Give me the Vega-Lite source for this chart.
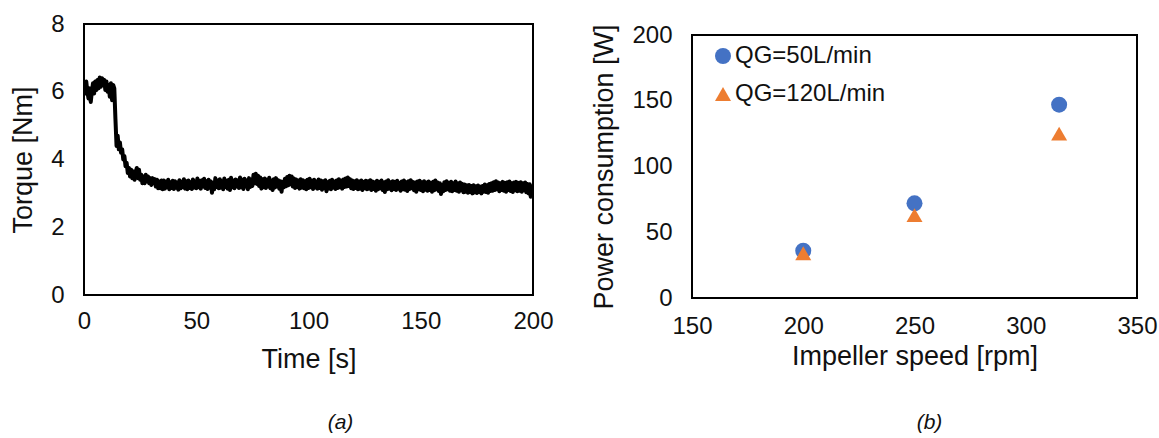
{
  "$schema": "https://vega.github.io/schema/vega-lite/v6.json",
  "padding": {"left": 8, "top": 11, "right": 5, "bottom": 5},
  "config": {
    "font": "Liberation Sans",
    "view": {"stroke": "black", "strokeWidth": 2},
    "axis": {"grid": false, "domain": false, "ticks": false, "labelFlush": false, "labelOverlap": false, "labelFontSize": 24, "titleFontSize": 27, "titleFontWeight": "normal", "labelColor": "#111111", "titleColor": "#111111", "labelFont": "Liberation Sans", "titleFont": "Liberation Sans"},
    "axisX": {"labelPadding": 14, "titlePadding": 13},
    "axisY": {"labelPadding": 20, "titlePadding": 13},
    "title": {"font": "Liberation Sans", "fontWeight": "normal", "color": "#111111"}
  },
  "spacing": 35,
  "hconcat": [
    {
      "width": 449,
      "height": 271,
      "title": {"text": "(a)", "orient": "bottom", "fontStyle": "italic", "fontSize": 21, "offset": 40, "dx": 32, "anchor": "middle"},
      "data": {"values": [
        {"t":0,"v":6.2},{"t":0.5,"v":5.95},{"t":1,"v":6.3},{"t":1.5,"v":6.0},{"t":2,"v":5.8},{"t":2.5,"v":6.1},{"t":3,"v":5.7},{"t":3.5,"v":6.0},{"t":4,"v":6.25},{"t":4.5,"v":5.95},
        {"t":5,"v":6.3},{"t":5.5,"v":6.05},{"t":6,"v":6.35},{"t":6.5,"v":6.1},{"t":7,"v":6.42},{"t":7.5,"v":6.15},{"t":8,"v":6.4},{"t":8.5,"v":6.2},{"t":9,"v":6.35},{"t":9.5,"v":6.05},
        {"t":10,"v":6.3},{"t":10.5,"v":6.0},{"t":11,"v":6.2},{"t":11.5,"v":5.85},{"t":12,"v":6.25},{"t":12.5,"v":5.75},{"t":13,"v":6.2},{"t":13.5,"v":6.1},{"t":14,"v":5.2},{"t":14.5,"v":4.4},
        {"t":15,"v":4.7},{"t":15.5,"v":4.3},{"t":16,"v":4.5},{"t":16.5,"v":4.2},{"t":17,"v":4.3},{"t":17.5,"v":4.0},{"t":18,"v":4.1},{"t":18.5,"v":3.8},{"t":19,"v":3.9},{"t":19.5,"v":3.6},
        {"t":20,"v":3.75},{"t":20.5,"v":3.5},{"t":21,"v":3.7},{"t":21.5,"v":3.45},{"t":22,"v":3.65},{"t":22.5,"v":3.4},{"t":23,"v":3.6},{"t":23.5,"v":3.75},{"t":24,"v":3.45},{"t":24.5,"v":3.7},
        {"t":25,"v":3.4},{"t":25.5,"v":3.55},{"t":26,"v":3.3},{"t":26.5,"v":3.5},{"t":27,"v":3.3},{"t":27.5,"v":3.55},{"t":28,"v":3.35},{"t":28.5,"v":3.5},{"t":29,"v":3.3},{"t":29.5,"v":3.45},
        {"t":30,"v":3.25},{"t":30.5,"v":3.45},{"t":31,"v":3.3},{"t":31.5,"v":3.42},{"t":32,"v":3.2},{"t":32.5,"v":3.4},{"t":33,"v":3.15},{"t":33.5,"v":3.35},{"t":34,"v":3.15},{"t":34.5,"v":3.38},
        {"t":35,"v":3.12},{"t":35.5,"v":3.38},{"t":36,"v":3.14},{"t":36.5,"v":3.35},{"t":37,"v":3.18},{"t":37.5,"v":3.4},{"t":38,"v":3.12},{"t":38.5,"v":3.33},{"t":39,"v":3.16},{"t":39.5,"v":3.37},
        {"t":40,"v":3.13},{"t":40.5,"v":3.36},{"t":41,"v":3.17},{"t":41.5,"v":3.32},{"t":42,"v":3.11},{"t":42.5,"v":3.39},{"t":43,"v":3.15},{"t":43.5,"v":3.34},{"t":44,"v":3.18},{"t":44.5,"v":3.42},
        {"t":45,"v":3.14},{"t":45.5,"v":3.36},{"t":46,"v":3.12},{"t":46.5,"v":3.38},{"t":47,"v":3.16},{"t":47.5,"v":3.33},{"t":48,"v":3.13},{"t":48.5,"v":3.41},{"t":49,"v":3.17},{"t":49.5,"v":3.35},
        {"t":50,"v":3.15},{"t":50.5,"v":3.44},{"t":51,"v":3.18},{"t":51.5,"v":3.37},{"t":52,"v":3.14},{"t":52.5,"v":3.39},{"t":53,"v":3.2},{"t":53.5,"v":3.43},{"t":54,"v":3.16},{"t":54.5,"v":3.36},
        {"t":55,"v":3.13},{"t":55.5,"v":3.4},{"t":56,"v":3.17},{"t":56.5,"v":3.35},{"t":57,"v":3.02},{"t":57.5,"v":3.3},{"t":58,"v":3.12},{"t":58.5,"v":3.45},{"t":59,"v":3.19},{"t":59.5,"v":3.38},
        {"t":60,"v":3.15},{"t":60.5,"v":3.42},{"t":61,"v":3.17},{"t":61.5,"v":3.36},{"t":62,"v":3.12},{"t":62.5,"v":3.44},{"t":63,"v":3.19},{"t":63.5,"v":3.37},{"t":64,"v":3.14},{"t":64.5,"v":3.4},
        {"t":65,"v":3.1},{"t":65.5,"v":3.46},{"t":66,"v":3.18},{"t":66.5,"v":3.38},{"t":67,"v":3.15},{"t":67.5,"v":3.41},{"t":68,"v":3.2},{"t":68.5,"v":3.39},{"t":69,"v":3.16},{"t":69.5,"v":3.47},
        {"t":70,"v":3.18},{"t":70.5,"v":3.4},{"t":71,"v":3.13},{"t":71.5,"v":3.43},{"t":72,"v":3.2},{"t":72.5,"v":3.38},{"t":73,"v":3.12},{"t":73.5,"v":3.45},{"t":74,"v":3.19},{"t":74.5,"v":3.41},
        {"t":75,"v":3.22},{"t":75.5,"v":3.55},{"t":76,"v":3.3},{"t":76.5,"v":3.58},{"t":77,"v":3.28},{"t":77.5,"v":3.52},{"t":78,"v":3.22},{"t":78.5,"v":3.47},{"t":79,"v":3.14},{"t":79.5,"v":3.42},
        {"t":80,"v":3.18},{"t":80.5,"v":3.44},{"t":81,"v":3.16},{"t":81.5,"v":3.4},{"t":82,"v":3.2},{"t":82.5,"v":3.46},{"t":83,"v":3.15},{"t":83.5,"v":3.38},{"t":84,"v":3.1},{"t":84.5,"v":3.42},
        {"t":85,"v":3.17},{"t":85.5,"v":3.45},{"t":86,"v":3.2},{"t":86.5,"v":3.39},{"t":87,"v":3.14},{"t":87.5,"v":3.36},{"t":88,"v":3.05},{"t":88.5,"v":3.34},{"t":89,"v":3.18},{"t":89.5,"v":3.43},
        {"t":90,"v":3.21},{"t":90.5,"v":3.48},{"t":91,"v":3.24},{"t":91.5,"v":3.52},{"t":92,"v":3.27},{"t":92.5,"v":3.5},{"t":93,"v":3.2},{"t":93.5,"v":3.44},{"t":94,"v":3.16},{"t":94.5,"v":3.41},
        {"t":95,"v":3.19},{"t":95.5,"v":3.38},{"t":96,"v":3.14},{"t":96.5,"v":3.42},{"t":97,"v":3.17},{"t":97.5,"v":3.39},{"t":98,"v":3.15},{"t":98.5,"v":3.36},{"t":99,"v":3.12},{"t":99.5,"v":3.4},
        {"t":100,"v":3.16},{"t":100.5,"v":3.43},{"t":101,"v":3.18},{"t":101.5,"v":3.37},{"t":102,"v":3.13},{"t":102.5,"v":3.4},{"t":103,"v":3.17},{"t":103.5,"v":3.35},{"t":104,"v":3.14},{"t":104.5,"v":3.41},
        {"t":105,"v":3.16},{"t":105.5,"v":3.38},{"t":106,"v":3.11},{"t":106.5,"v":3.36},{"t":107,"v":3.15},{"t":107.5,"v":3.39},{"t":108,"v":3.06},{"t":108.5,"v":3.33},{"t":109,"v":3.14},{"t":109.5,"v":3.37},
        {"t":110,"v":3.12},{"t":110.5,"v":3.4},{"t":111,"v":3.17},{"t":111.5,"v":3.35},{"t":112,"v":3.13},{"t":112.5,"v":3.38},{"t":113,"v":3.16},{"t":113.5,"v":3.42},{"t":114,"v":3.18},{"t":114.5,"v":3.37},
        {"t":115,"v":3.14},{"t":115.5,"v":3.41},{"t":116,"v":3.19},{"t":116.5,"v":3.44},{"t":117,"v":3.2},{"t":117.5,"v":3.47},{"t":118,"v":3.22},{"t":118.5,"v":3.42},{"t":119,"v":3.15},{"t":119.5,"v":3.38},
        {"t":120,"v":3.13},{"t":120.5,"v":3.36},{"t":121,"v":3.16},{"t":121.5,"v":3.39},{"t":122,"v":3.12},{"t":122.5,"v":3.35},{"t":123,"v":3.14},{"t":123.5,"v":3.38},{"t":124,"v":3.1},{"t":124.5,"v":3.34},
        {"t":125,"v":3.15},{"t":125.5,"v":3.37},{"t":126,"v":3.12},{"t":126.5,"v":3.36},{"t":127,"v":3.14},{"t":127.5,"v":3.39},{"t":128,"v":3.1},{"t":128.5,"v":3.35},{"t":129,"v":3.13},{"t":129.5,"v":3.33},
        {"t":130,"v":3.08},{"t":130.5,"v":3.37},{"t":131,"v":3.12},{"t":131.5,"v":3.34},{"t":132,"v":3.15},{"t":132.5,"v":3.38},{"t":133,"v":3.1},{"t":133.5,"v":3.32},{"t":134,"v":3.04},{"t":134.5,"v":3.35},
        {"t":135,"v":3.12},{"t":135.5,"v":3.39},{"t":136,"v":3.14},{"t":136.5,"v":3.33},{"t":137,"v":3.09},{"t":137.5,"v":3.36},{"t":138,"v":3.13},{"t":138.5,"v":3.34},{"t":139,"v":3.1},{"t":139.5,"v":3.37},
        {"t":140,"v":3.14},{"t":140.5,"v":3.31},{"t":141,"v":3.08},{"t":141.5,"v":3.35},{"t":142,"v":3.12},{"t":142.5,"v":3.38},{"t":143,"v":3.11},{"t":143.5,"v":3.33},{"t":144,"v":3.07},{"t":144.5,"v":3.36},
        {"t":145,"v":3.13},{"t":145.5,"v":3.39},{"t":146,"v":3.15},{"t":146.5,"v":3.34},{"t":147,"v":3.09},{"t":147.5,"v":3.32},{"t":148,"v":3.05},{"t":148.5,"v":3.35},{"t":149,"v":3.12},{"t":149.5,"v":3.37},
        {"t":150,"v":3.1},{"t":150.5,"v":3.33},{"t":151,"v":3.06},{"t":151.5,"v":3.36},{"t":152,"v":3.11},{"t":152.5,"v":3.32},{"t":153,"v":3.08},{"t":153.5,"v":3.35},{"t":154,"v":3.1},{"t":154.5,"v":3.31},
        {"t":155,"v":3.05},{"t":155.5,"v":3.34},{"t":156,"v":3.09},{"t":156.5,"v":3.38},{"t":157,"v":3.12},{"t":157.5,"v":3.32},{"t":158,"v":3.07},{"t":158.5,"v":3.3},{"t":159,"v":2.98},{"t":159.5,"v":3.25},
        {"t":160,"v":3.06},{"t":160.5,"v":3.33},{"t":161,"v":3.1},{"t":161.5,"v":3.36},{"t":162,"v":3.12},{"t":162.5,"v":3.31},{"t":163,"v":3.08},{"t":163.5,"v":3.34},{"t":164,"v":3.06},{"t":164.5,"v":3.3},
        {"t":165,"v":3.1},{"t":165.5,"v":3.35},{"t":166,"v":3.08},{"t":166.5,"v":3.29},{"t":167,"v":3.05},{"t":167.5,"v":3.32},{"t":168,"v":3.09},{"t":168.5,"v":3.28},{"t":169,"v":3.03},{"t":169.5,"v":3.26},
        {"t":170,"v":3.05},{"t":170.5,"v":3.24},{"t":171,"v":3.02},{"t":171.5,"v":3.25},{"t":172,"v":3.04},{"t":172.5,"v":3.22},{"t":173,"v":3.0},{"t":173.5,"v":3.24},{"t":174,"v":3.03},{"t":174.5,"v":3.21},
        {"t":175,"v":3.01},{"t":175.5,"v":3.23},{"t":176,"v":3.04},{"t":176.5,"v":3.2},{"t":177,"v":3.0},{"t":177.5,"v":3.22},{"t":178,"v":3.05},{"t":178.5,"v":3.26},{"t":179,"v":3.04},{"t":179.5,"v":3.24},
        {"t":180,"v":3.02},{"t":180.5,"v":3.28},{"t":181,"v":3.07},{"t":181.5,"v":3.3},{"t":182,"v":3.08},{"t":182.5,"v":3.33},{"t":183,"v":3.1},{"t":183.5,"v":3.36},{"t":184,"v":3.12},{"t":184.5,"v":3.32},
        {"t":185,"v":3.06},{"t":185.5,"v":3.3},{"t":186,"v":3.1},{"t":186.5,"v":3.34},{"t":187,"v":3.08},{"t":187.5,"v":3.31},{"t":188,"v":3.05},{"t":188.5,"v":3.33},{"t":189,"v":3.1},{"t":189.5,"v":3.35},
        {"t":190,"v":3.07},{"t":190.5,"v":3.3},{"t":191,"v":3.04},{"t":191.5,"v":3.32},{"t":192,"v":3.09},{"t":192.5,"v":3.34},{"t":193,"v":3.06},{"t":193.5,"v":3.31},{"t":194,"v":3.08},{"t":194.5,"v":3.33},
        {"t":195,"v":3.05},{"t":195.5,"v":3.3},{"t":196,"v":3.09},{"t":196.5,"v":3.32},{"t":197,"v":3.03},{"t":197.5,"v":3.28},{"t":198,"v":3.0},{"t":198.5,"v":3.27},{"t":199,"v":2.9},{"t":199.5,"v":3.2},
        {"t":200,"v":2.88}
      ]},
      "mark": {"type": "line", "color": "black", "strokeWidth": 4, "strokeJoin": "round", "clip": true},
      "encoding": {
        "x": {"field": "t", "type": "quantitative", "scale": {"domain": [0, 200], "nice": false}, "axis": {"values": [0, 50, 100, 150, 200], "title": "Time [s]"}},
        "y": {"field": "v", "type": "quantitative", "scale": {"domain": [0, 8], "nice": false}, "axis": {"values": [0, 2, 4, 6, 8], "title": "Torque [Nm]"}}
      }
    },
    {
      "width": 445,
      "height": 274,
      "view": {"stroke": null},
      "title": {"text": "(b)", "orient": "bottom", "fontStyle": "italic", "fontSize": 21, "offset": 43, "dx": 15, "anchor": "middle"},
      "layer": [
        {
          "data": {"values": [{"box": "frame"}]},
          "mark": {"type": "rect", "fill": null, "stroke": "black", "strokeWidth": 2},
          "encoding": {
            "x": {"datum": 150, "type": "quantitative", "scale": {"domain": [150, 350], "nice": false, "zero": false}, "axis": {"values": [150, 200, 250, 300, 350], "title": "Impeller speed [rpm]", "labelPadding": 16, "titlePadding": 5}},
            "x2": {"datum": 350},
            "y": {"datum": 0, "type": "quantitative", "scale": {"domain": [0, 200], "nice": false, "range": [274, 11]}, "axis": {"values": [0, 50, 100, 150, 200], "title": "Power consumption [W]"}},
            "y2": {"datum": 200}
          }
        },
        {
          "data": {"values": [
            {"speed": 200, "power": 36, "series": "QG=50L/min"},
            {"speed": 250, "power": 72, "series": "QG=50L/min"},
            {"speed": 315, "power": 147, "series": "QG=50L/min"},
            {"speed": 200, "power": 34, "series": "QG=120L/min"},
            {"speed": 250, "power": 63, "series": "QG=120L/min"},
            {"speed": 315, "power": 125, "series": "QG=120L/min"}
          ]},
          "mark": {"type": "point", "filled": true, "size": 256, "opacity": 1},
          "encoding": {
            "x": {"field": "speed", "type": "quantitative", "scale": {"domain": [150, 350], "nice": false, "zero": false}, "axis": {"values": [150, 200, 250, 300, 350], "title": "Impeller speed [rpm]", "labelPadding": 16, "titlePadding": 5}},
            "y": {"field": "power", "type": "quantitative", "scale": {"domain": [0, 200], "nice": false, "range": [274, 11]}, "axis": {"values": [0, 50, 100, 150, 200], "title": "Power consumption [W]"}},
            "color": {"field": "series", "type": "nominal", "scale": {"domain": ["QG=50L/min", "QG=120L/min"], "range": ["#4472C4", "#ED7D31"]},
              "legend": {"title": null, "orient": "none", "legendX": 627, "legendY": 20, "labelFontSize": 24, "labelColor": "#111111", "labelFont": "Liberation Sans", "symbolSize": 256, "rowPadding": 14, "labelOffset": 0, "padding": 0, "symbolStrokeWidth": 0}},
            "shape": {"field": "series", "type": "nominal", "scale": {"domain": ["QG=50L/min", "QG=120L/min"], "range": ["circle", "triangle-up"]}}
          }
        }
      ]
    }
  ]
}
